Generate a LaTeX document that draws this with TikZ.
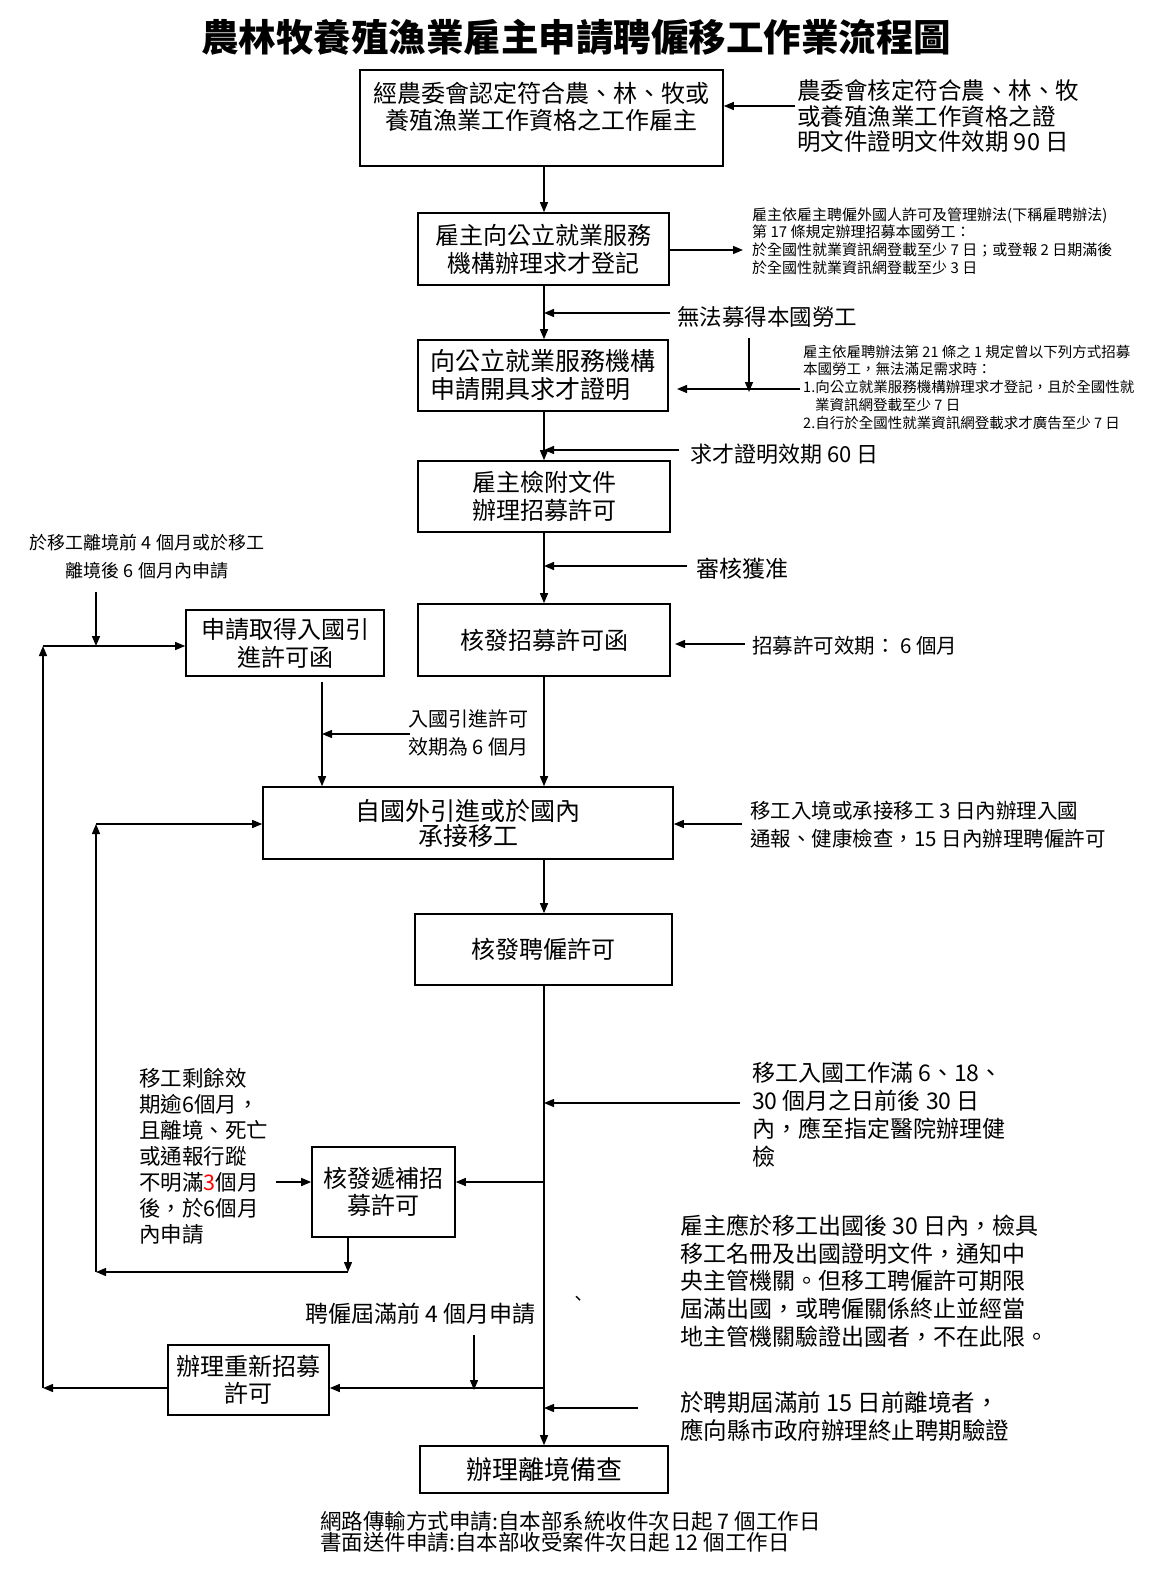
\documentclass[tikz,border=0pt]{standalone}
\usepackage{fontspec}
\setmainfont{Noto Sans CJK TC}
\usetikzlibrary{arrows.meta}
\newcommand{\fs}[2]{\fontsize{#1}{#2}\selectfont}
\newcommand{\dn}[1]{\raisebox{-3pt}{#1}}
\tikzset{
  box/.style={draw, line width=1.6pt, inner sep=0pt, align=center},
  arr/.style={-{Triangle[length=10pt,width=8pt]}, line width=1.3pt},
  lbl/.style={inner sep=0pt, align=left, anchor=west},
}
\begin{document}
\begin{tikzpicture}[x=1pt,y=-1pt]
\useasboundingbox (0,0) rectangle (1157,1573);
\fill[white] (0,0) rectangle (1157,1573);

\node[font=\bfseries\fs{37.5}{40}, inner sep=0] (title) at (576,37) {農林牧養殖漁業雇主申請聘僱移工作業流程圖};

% boxes
\node[box, minimum width=363pt, minimum height=96pt] (B1) at (541.5,118) {};
\node[font=\fs{24}{27}, align=center, inner sep=0] (B1t) at (541.5,106.5) {經農委會認定符合農、林、牧或\\養殖漁業工作資格之工作雇主};
\node[box, minimum width=251pt, minimum height=72pt, font=\fs{24}{28}] (B2) at (543.5,249) {雇主向公立就業服務\\機構辦理求才登記};
\node[box, minimum width=250pt, minimum height=71pt, font=\fs{25}{28}, align=left] (B3) at (543,375.5) {向公立就業服務機構\\申請開具求才證明};
\node[box, minimum width=252pt, minimum height=71pt, font=\fs{24}{28}] (B4) at (544,496.5) {雇主檢附文件\\辦理招募許可};
\node[box, minimum width=252pt, minimum height=72pt, font=\fs{24}{28}] (B5) at (544,640) {\dn{核發招募許可函}};
\node[box, minimum width=198pt, minimum height=66pt, font=\fs{24}{28}] (B6) at (285,643) {申請取得入國引\\進許可函};
\node[box, minimum width=410pt, minimum height=72pt, font=\fs{25}{25}] (B7) at (468,823) {自國外引進或於國內\\承接移工};
\node[box, minimum width=257pt, minimum height=71pt, font=\fs{24}{28}] (B8) at (543.5,949.5) {\dn{核發聘僱許可}};
\node[box, minimum width=143pt, minimum height=90pt, font=\fs{24}{27}] (B9) at (383.5,1192) {核發遞補招\\募許可};
\node[box, minimum width=161pt, minimum height=70pt, font=\fs{24}{27}] (B10) at (248.5,1380) {辦理重新招募\\許可};
\node[box, minimum width=248pt, minimum height=47pt, font=\fs{26}{28}] (B12) at (544,1469.5) {\dn{辦理離境備查}};

% labels
\node[lbl, font=\fs{23.5}{25.5}] (R1) at (797,116.5) {農委會核定符合農、林、牧\\或養殖漁業工作資格之證\\明文件證明文件效期 90 日};
\node[lbl, font=\fs{15}{17.7}] (R2) at (752,241) {雇主依雇主聘僱外國人許可及管理辦法(下稱雇聘辦法)\\第 17 條規定辦理招募本國勞工：\\於全國性就業資訊網登載至少 7 日；或登報 2 日期滿後\\於全國性就業資訊網登載至少 3 日};
\node[lbl, font=\fs{22.5}{24}] (L1) at (677,317) {無法募得本國勞工};
\node[lbl, font=\fs{14.5}{17.75}] (R3) at (803,387) {雇主依雇聘辦法第 21 條之 1 規定曾以下列方式招募\\本國勞工，無法滿足需求時：\\1.向公立就業服務機構辦理求才登記，且於全國性就\\\hspace*{12pt}業資訊網登載至少 7 日\\2.自行於全國性就業資訊網登載求才廣告至少 7 日};
\node[lbl, font=\fs{22}{24}] (L2) at (690,454) {求才證明效期 60 日};
\node[lbl, font=\fs{23}{24}] (L3) at (696,569) {審核獲准};
\node[lbl, font=\fs{20.5}{24}] (L4) at (752,646) {招募許可效期： 6 個月};
\node[font=\fs{18}{28}, align=center, inner sep=0] (L5) at (147,557) {於移工離境前 4 個月或於移工\\離境後 6 個月內申請};
\node[lbl, font=\fs{20}{28}] (L6) at (408,733) {入國引進許可\\效期為 6 個月};
\node[lbl, font=\fs{20.5}{28}] (L7) at (750,825) {移工入境或承接移工 3 日內辦理入國\\通報、健康檢查，15 日內辦理聘僱許可};
\node[lbl, font=\fs{23}{28}] (L8) at (752,1115) {移工入國工作滿 6、18、\\30 個月之日前後 30 日\\內，應至指定醫院辦理健\\檢};
\node[lbl, font=\fs{21.5}{26}] (L9) at (139,1156.5) {移工剩餘效\\期逾6個月，\\且離境、死亡\\或通報行蹤\\不明滿\textcolor{red}{3}個月\\後，於6個月\\內申請};
\node[lbl, font=\fs{23}{24}] (L10) at (305,1314) {聘僱屆滿前 4 個月申請};
\node[font=\fs{18}{20}, inner sep=0] (L11) at (578,1301) {、};
\node[lbl, font=\fs{23}{27.8}] (L12) at (680,1281) {雇主應於移工出國後 30 日內，檢具\\移工名冊及出國證明文件，通知中\\央主管機關。但移工聘僱許可期限\\屆滿出國，或聘僱關係終止並經當\\地主管機關驗證出國者，不在此限。};
\node[lbl, font=\fs{23.5}{28}] (L13) at (680,1417) {於聘期屆滿前 15 日前離境者，\\應向縣市政府辦理終止聘期驗證};
\node[lbl, font=\fs{21.5}{20}] (L14) at (320,1532) {網路傳輸方式申請:自本部系統收件次日起 7 個工作日\\書面送件申請:自本部收受案件次日起 12 個工作日};

% coordinates
\coordinate (sp) at (544,0);
\coordinate (c1) at (795,106);
\coordinate (c2) at (743,250);
\coordinate (c3) at (670,313);
\coordinate (c4) at (800,389);
\coordinate (c4t) at (677,389);
\coordinate (c5) at (749,338);
\coordinate (c6) at (679,450);
\coordinate (c7) at (687,566);
\coordinate (c8) at (745,644);
\coordinate (c8t) at (675,644);
\coordinate (c9) at (96,592);
\coordinate (j1) at (43,646);
\coordinate (j2) at (43,1388);
\coordinate (c10) at (322,682);
\coordinate (c11) at (410,734);
\coordinate (c12) at (742,824);
\coordinate (j3) at (96,824);
\coordinate (j4) at (96,1272);
\coordinate (c13) at (740,1103);
\coordinate (c14) at (544,1182);
\coordinate (c15) at (276,1182);
\coordinate (c16) at (348,1272);
\coordinate (c17) at (474,1335);
\coordinate (c18) at (638,1408);

% spine
\draw[arr] (B1.south -| sp) -- (B2.north -| sp);
\draw[arr] (B2.south -| sp) -- (B3.north -| sp);
\draw[arr] (B3.south -| sp) -- (B4.north -| sp);
\draw[arr] (B4.south -| sp) -- (B5.north -| sp);
\draw[arr] (B5.south -| sp) -- (B7.north -| sp);
\draw[arr] (B7.south -| sp) -- (B8.north -| sp);
\draw[arr] (B8.south -| sp) -- (B12.north -| sp);

% side arrows
\draw[arr] (c1) -- (c1 -| B1.east);
\draw[arr] (B2.east |- c2) -- (c2);
\draw[arr] (c3) -- (c3 -| sp);
\draw[arr] (c4) -- (c4t);
\draw[arr] (c5) -- ([yshift=-3pt]c5 |- c4);
\draw[arr] (c6) -- (c6 -| sp);
\draw[arr] (c7) -- (c7 -| sp);
\draw[arr] (c8) -- (c8t);

% left loop top
\draw[arr] (c9) -- (c9 |- j1);
\draw[arr] (j1) -- (j1 -| B6.west);
\draw[arr] (B10.west |- j2) -- (j2);
\draw[arr] (j2) -- (j1);

% B6 to B7
\draw[arr] (c10) -- (c10 |- B7.north);
\draw[arr] (c11) -- (c11 -| c10);

% B7 sides
\draw[arr] (c12) -- (c12 -| B7.east);
\draw[arr] (j3) -- (j3 -| B7.west);
\draw[arr] (j4) -- (j3);

% lower part
\draw[arr] (c13) -- (c13 -| sp);
\draw[arr] (c14) -- (c14 -| B9.east);
\draw[arr] (c15) -- (c15 -| B9.west);
\draw[arr] (B9.south -| c16) -- (c16);
\draw[arr] (c16) -- (j4);
\draw[arr] (c17) -- ([yshift=-2pt]c17 |- j2);
\draw[arr] (j2 -| sp) -- (j2 -| B10.east);
\draw[arr] (c18) -- (c18 -| sp);
\end{tikzpicture}
\end{document}
